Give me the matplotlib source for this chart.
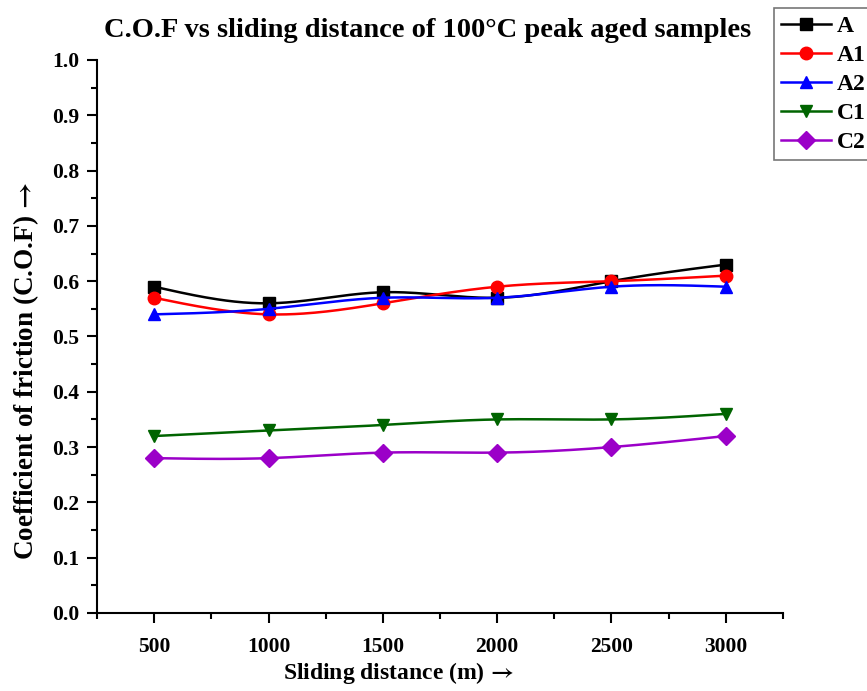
import numpy as np
import matplotlib
matplotlib.use("Agg")
import matplotlib.pyplot as plt
from matplotlib.ticker import MultipleLocator, FormatStrFormatter

distance = [500, 1000, 1500, 2000, 2500, 3000]
cof_A = [0.59, 0.56, 0.58, 0.57, 0.60, 0.63]
cof_A1 = [0.57, 0.54, 0.56, 0.59, 0.60, 0.61]
cof_A2 = [0.54, 0.55, 0.57, 0.57, 0.59, 0.59]
cof_C1 = [0.32, 0.33, 0.34, 0.35, 0.35, 0.36]
cof_C2 = [0.28, 0.28, 0.29, 0.29, 0.30, 0.32]

series = [
    ("A", cof_A, "black", "s"),
    ("A1", cof_A1, "red", "o"),
    ("A2", cof_A2, "blue", "^"),
    ("C1", cof_C1, "#006400", "v"),
    ("C2", cof_C2, "#9b00c8", "D"),
]


def natural_spline(x, y, n=200):
    x = np.asarray(x, float)
    y = np.asarray(y, float)
    k = len(x)
    h = np.diff(x)
    A = np.zeros((k, k))
    b = np.zeros(k)
    A[0, 0] = A[-1, -1] = 1.0
    for i in range(1, k - 1):
        A[i, i - 1] = h[i - 1]
        A[i, i] = 2 * (h[i - 1] + h[i])
        A[i, i + 1] = h[i]
        b[i] = 6 * ((y[i + 1] - y[i]) / h[i] - (y[i] - y[i - 1]) / h[i - 1])
    M = np.linalg.solve(A, b)
    xs = np.linspace(x[0], x[-1], n)
    idx = np.clip(np.searchsorted(x, xs) - 1, 0, k - 2)
    x0, x1 = x[idx], x[idx + 1]
    hh = x1 - x0
    t0 = x1 - xs
    t1 = xs - x0
    ys = (M[idx] * t0 ** 3 + M[idx + 1] * t1 ** 3) / (6 * hh) \
        + (y[idx] / hh - M[idx] * hh / 6) * t0 \
        + (y[idx + 1] / hh - M[idx + 1] * hh / 6) * t1
    return xs, ys


plt.rcParams["font.family"] = ["Liberation Serif", "DejaVu Serif"]
plt.rcParams["font.weight"] = "bold"
plt.rcParams["mathtext.fontset"] = "stix"

fig = plt.figure(figsize=(8.67, 6.91), dpi=100)
ax = fig.add_axes([0.112, 0.1129, 0.791, 0.8003])

for name, vals, color, marker in series:
    xs, ys = natural_spline(distance, vals)
    ax.plot(xs, ys, color=color, lw=1.8)
    ax.plot(distance, vals, color=color, marker=marker, ms=9, lw=0)
    ax.plot([], [], color=color, marker=marker, ms=9, lw=1.8, label=name)

ax.set_xlim(250, 3250)
ax.set_ylim(0, 1.0)
ax.xaxis.set_major_locator(MultipleLocator(500))
ax.xaxis.set_minor_locator(MultipleLocator(250))
ax.yaxis.set_major_locator(MultipleLocator(0.1))
ax.yaxis.set_minor_locator(MultipleLocator(0.05))
ax.yaxis.set_major_formatter(FormatStrFormatter("%.1f"))
ax.set_xticks([500, 1000, 1500, 2000, 2500, 3000])

ax.spines["top"].set_visible(False)
ax.spines["right"].set_visible(False)
for s in ("left", "bottom"):
    ax.spines[s].set_linewidth(1.5)
ax.tick_params(which="major", length=7, width=1.5, labelsize=15.5, pad=6)
ax.tick_params(axis="x", which="major", pad=10)
ax.tick_params(which="minor", length=4, width=1.5)
for lab in ax.get_xticklabels() + ax.get_yticklabels():
    lab.set_fontweight("bold")

ax.set_xlabel(r"Sliding distance (m)$\,\rightarrow$", fontsize=17, fontweight="bold")
ax.xaxis.set_label_coords(0.439, -0.085)
ax.set_ylabel(r"Coefficient of friction (C.O.F)$\,\rightarrow$", fontsize=19.5,
              fontweight="bold")
ax.yaxis.set_label_coords(-0.082, 0.4376)
fig.text(0.493, 0.956, "C.O.F vs sliding distance of 100\u00b0C peak aged samples",
         ha="center", va="center", fontsize=20.5, fontweight="bold")

leg = fig.legend(loc="upper left", bbox_to_anchor=(0.893, 0.988), frameon=True,
                 fancybox=False, edgecolor="#555555", fontsize=17,
                 handlelength=2.1, handletextpad=0.25, borderpad=0.3,
                 labelspacing=0.32, borderaxespad=0)
leg.get_frame().set_linewidth(1.2)
for t in leg.get_texts():
    t.set_fontweight("bold")

fig.savefig("out.png", dpi=100)
